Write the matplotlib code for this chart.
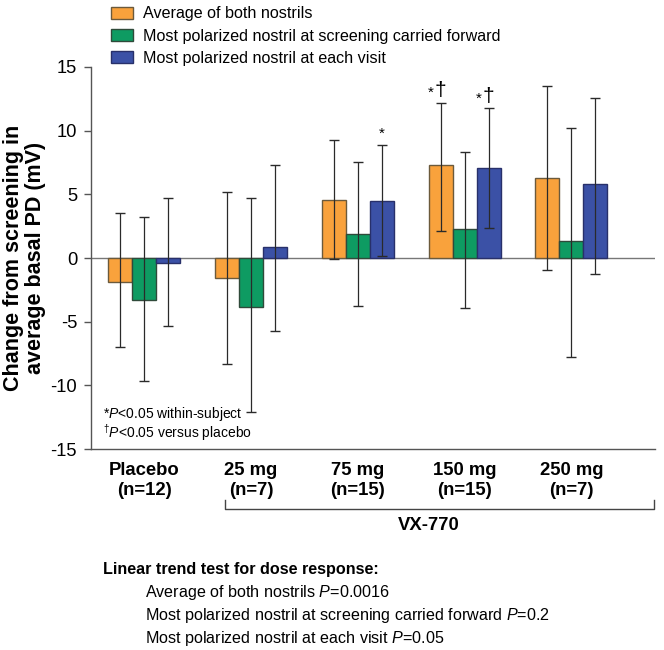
import numpy as np
import matplotlib
matplotlib.use("Agg")
import matplotlib.pyplot as plt

plt.rcParams['font.family'] = ['Liberation Sans', 'DejaVu Sans']
plt.rcParams['mathtext.fontset'] = 'custom'
plt.rcParams['mathtext.rm'] = 'Liberation Sans'
plt.rcParams['mathtext.it'] = 'Liberation Sans:italic'
plt.rcParams['mathtext.bf'] = 'Liberation Sans:bold'

# data
groups = ['Placebo\n(n=12)', '25 mg\n(n=7)', '75 mg\n(n=15)', '150 mg\n(n=15)', '250 mg\n(n=7)']
series = ['Average of both nostrils',
          'Most polarized nostril at screening carried forward',
          'Most polarized nostril at each visit']

avg_mean = [-1.9, -1.6, 4.55, 7.3, 6.25]
avg_low = [-7.0, -8.3, -0.1, 2.15, -0.9]
avg_high = [3.5, 5.2, 9.25, 12.2, 13.5]

scr_mean = [-3.3, -3.85, 1.9, 2.25, 1.35]
scr_low = [-9.65, -12.1, -3.75, -3.9, -7.75]
scr_high = [3.25, 4.7, 7.55, 8.35, 10.2]

vis_mean = [-0.4, 0.85, 4.5, 7.1, 5.8]
vis_low = [-5.3, -5.7, 0.15, 2.35, -1.25]
vis_high = [4.7, 7.3, 8.85, 11.75, 12.6]

# significance marks: (group, series) -> has dagger
marks = {(2, 2): False, (3, 0): True, (3, 2): True}

trend_p = ['0.0016', '0.2', '0.05']

colors = ['#F9A23C', '#0E9B62', '#3B51A6']
edges = ['#6b5a3c', '#2f4a3a', '#28306a']

fig = plt.figure(figsize=(6.64, 6.5), dpi=100)
ax = fig.add_axes([0.137, 0.309, 0.849, 0.588])

x = np.arange(len(groups))
w = 0.225
means = [avg_mean, scr_mean, vis_mean]
lows = [avg_low, scr_low, vis_low]
highs = [avg_high, scr_high, vis_high]

for k in range(3):
    xs = x + (k - 1) * w
    m = np.array(means[k])
    lo = np.array(lows[k])
    hi = np.array(highs[k])
    ax.bar(xs, m, w, color=colors[k], edgecolor=edges[k], linewidth=1.0,
           label=series[k], zorder=2)
    ax.errorbar(xs, m, yerr=[m - lo, hi - m], fmt='none', ecolor='#2a2a2a',
                elinewidth=0.9, capsize=3.5, capthick=1.0, zorder=3)

for (g, k), dag in marks.items():
    xs = x[g] + (k - 1) * w
    top = highs[k][g]
    if dag:
        ax.text(xs, top + 0.2, '\u2020', ha='center', va='bottom', fontsize=15)
        ax.text(xs - 0.095, top + 1.3, '*', ha='center', va='top', fontsize=11)
    else:
        ax.text(xs, top + 0.35, '*', ha='center', va='bottom', fontsize=11)

ax.axhline(0, color='#777777', linewidth=1.0, zorder=1)

ax.set_xlim(-0.5, 4.78)
ax.set_ylim(-15, 15)
ax.set_yticks([-15, -10, -5, 0, 5, 10, 15])
ax.set_yticklabels(['-15', '-10', '-5', '0', '5', '10', '15'], fontsize=13.2)
ax.set_xticks(x)
ax.set_xticklabels(groups, fontsize=13.3, fontweight='bold', linespacing=1.25)
ax.tick_params(axis='x', length=0, pad=9)
ax.tick_params(axis='y', length=5, width=1, color='#555555', pad=5)
for s in ['top', 'right']:
    ax.spines[s].set_visible(False)
for s in ['left', 'bottom']:
    ax.spines[s].set_color('#555555')
    ax.spines[s].set_linewidth(1.0)

ax.set_ylabel('Change from screening in\naverage basal PD (mV)', fontsize=15.5,
              fontweight='bold', linespacing=1.1)
ax.yaxis.set_label_coords(-0.079, 0.5)

# footnote inside the axes
ax.text(0.022, 0.091, r'*$\it{P}$<0.05 within-subject', transform=ax.transAxes,
        fontsize=10, va='center')
ax.text(0.022, 0.043, r'$^{\dagger}$$\it{P}$<0.05 versus placebo', transform=ax.transAxes,
        fontsize=10, va='center')

# bracket under VX-770 doses
tr = ax.get_xaxis_transform()
bx0, bx1 = 0.76, 4.775
ax.plot([bx0, bx0, bx1, bx1], [-0.134, -0.157, -0.157, -0.134], transform=tr,
        color='#444444', linewidth=1.0, clip_on=False)
ax.text(2.66, -0.2, 'VX-770', transform=tr, ha='center', va='center',
        fontsize=13.3, fontweight='bold')

# legend
fig.legend(loc='upper left', bbox_to_anchor=(0.152, 1.005), frameon=False,
           fontsize=11.6, handlelength=1.4, handleheight=0.8, labelspacing=0.45,
           handletextpad=0.6, borderaxespad=0.2)

# linear trend notes
fig.text(0.155, 0.1246, 'Linear trend test for dose response:', fontsize=11.6,
         fontweight='bold', va='center')
for i, (name, p) in enumerate(zip(series, trend_p)):
    fig.text(0.218, 0.0892 - i * 0.0354, name + r' $\it{P}$=' + p, fontsize=11.6,
             va='center')

fig.savefig('out.png', dpi=100)
